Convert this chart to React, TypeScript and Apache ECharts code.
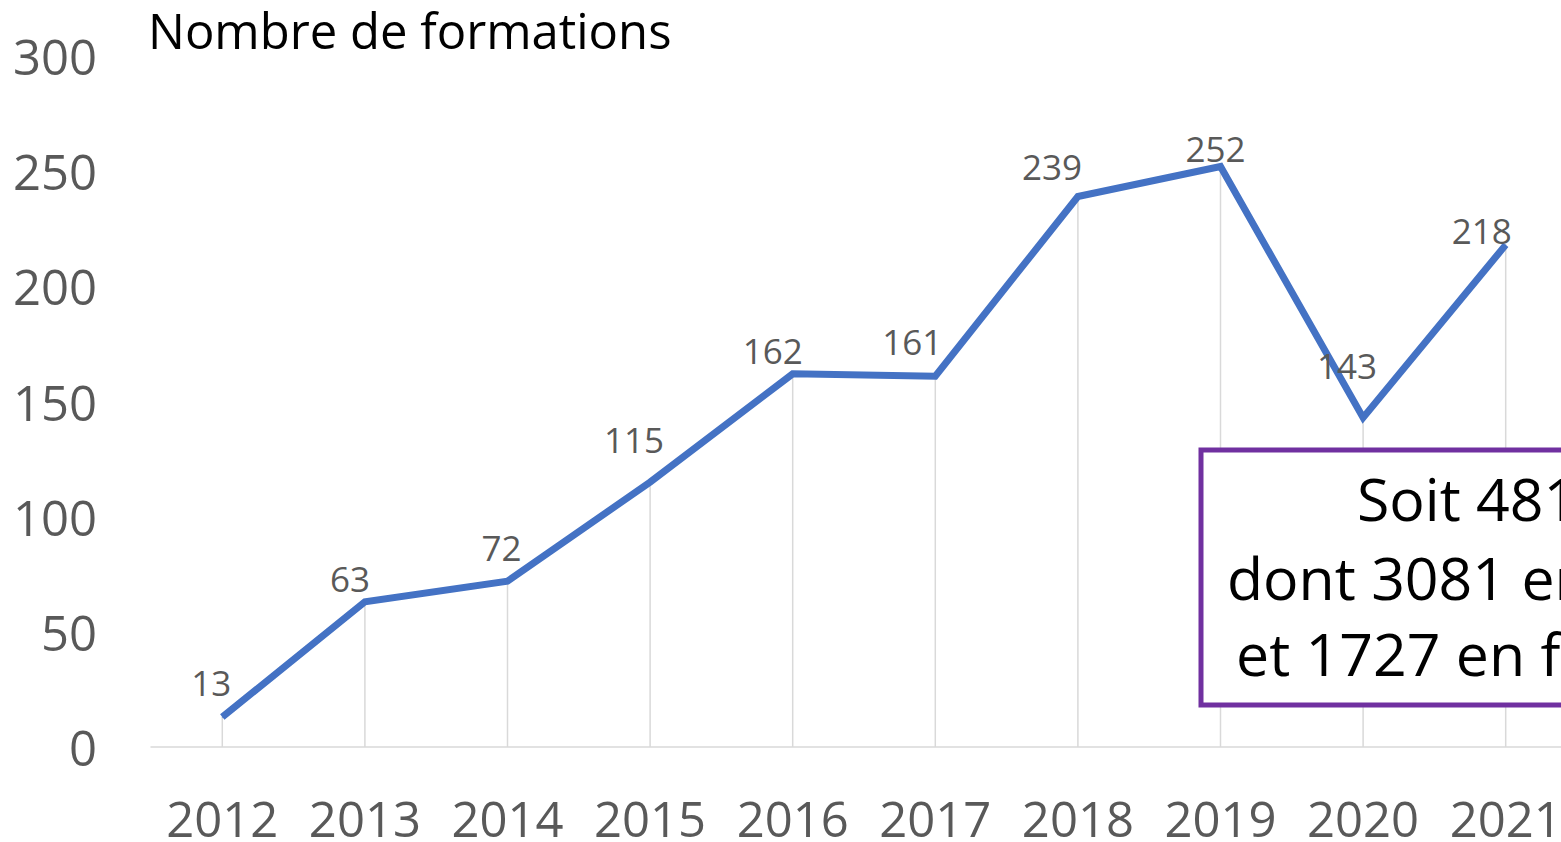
import React, { useEffect, useRef } from "react";
import * as echarts from "echarts";

const years = ["2012", "2013", "2014", "2015", "2016", "2017", "2018", "2019", "2020", "2021"];
const formations = [13, 63, 72, 115, 162, 161, 239, 252, 143, 218];
const labelOffsets = [
  [-11, -35], [-15, -23], [-6, -34], [-16, -43], [-20, -23],
  [-23, -35], [-26, -30], [-5, -18], [-16, -52], [-24, -14],
];
const yTicks = { min: 0, max: 300, interval: 50 };
const titleText = "Nombre de formations";
const boxLines = ["Soit 481", "dont 3081 en", "et 1727 en fo"];

const FONT = "'Open Sans', 'Noto Sans', sans-serif";

export default function App() {
  const ref = useRef<HTMLDivElement>(null);
  useEffect(() => {
    if (!ref.current) return;
    const chart = echarts.init(ref.current, undefined, { renderer: "svg" });
    chart.setOption({
      animation: false,
      backgroundColor: "#ffffff",
      textStyle: { fontFamily: FONT },
      grid: { left: 151, right: 23, top: 56, bottom: 90, containLabel: false },
      xAxis: {
        type: "category",
        data: years,
        boundaryGap: true,
        axisLine: { show: true, lineStyle: { color: "#d9d9d9", width: 1.5 } },
        axisTick: { show: false },
        splitLine: { show: false },
        axisLabel: { color: "#595959", fontSize: 49, fontFamily: FONT, margin: 46, interval: 0 },
      },
      yAxis: {
        type: "value",
        min: yTicks.min,
        max: yTicks.max,
        interval: yTicks.interval,
        axisLine: { show: false },
        axisTick: { show: false },
        splitLine: { show: false },
        axisLabel: { color: "#595959", fontSize: 49, fontFamily: FONT, margin: 54 },
      },
      series: [
        {
          type: "bar",
          data: formations,
          barWidth: 1.5,
          itemStyle: { color: "#d9d9d9" },
          z: 1,
          silent: true,
        },
        {
          type: "line",
          data: formations.map((v, i) => ({
            value: v,
            label: { offset: labelOffsets[i] },
          })),
          symbol: "circle",
          symbolSize: 1,
          showSymbol: true,
          itemStyle: { color: "#4472C4" },
          lineStyle: { color: "#4472C4", width: 7, cap: "butt", join: "miter" },
          label: {
            show: true,
            position: "inside",
            color: "#595959",
            fontSize: 35,
            fontFamily: FONT,
          },
          z: 3,
        },
      ],
      graphic: [
        {
          type: "text",
          left: 148,
          top: 5,
          style: {
            text: titleText,
            fill: "#000000",
            font: `49px ${FONT}`,
          },
        },
        {
          type: "rect",
          shape: { x: 1201, y: 450, width: 600, height: 255 },
          style: { fill: "#ffffff", stroke: "#7030A0", lineWidth: 5 },
          z: 10,
        },
        ...boxLines.map((t, i) => ({
          type: "text",
          x: [1357, 1227, 1236][i],
          y: [468, 547, 623][i],
          z: 11,
          style: {
            text: t,
            fill: "#000000",
            font: `59px ${FONT}`,
            textAlign: "left",
          },
        })),
      ],
    });
    return () => chart.dispose();
  }, []);
  return (
    <div style={{ position: "absolute", left: 0, top: 0, width: 1561, height: 842, overflow: "hidden", background: "#fff" }}>
      <div ref={ref} style={{ width: 1600, height: 842 }} />
    </div>
  );
}
